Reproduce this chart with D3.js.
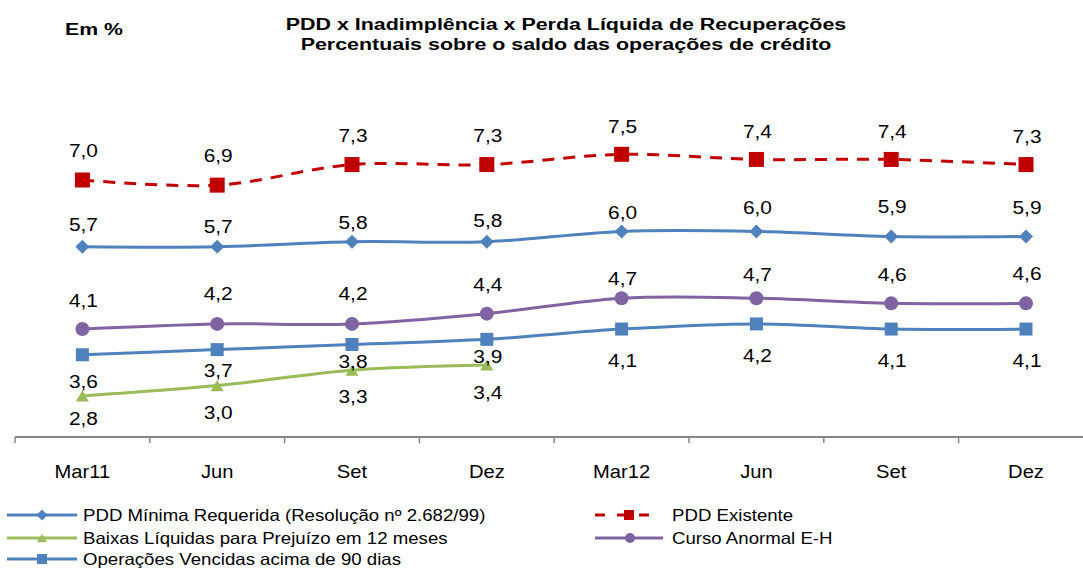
<!DOCTYPE html>
<html>
<head>
<meta charset="utf-8">
<script src="https://cdn.jsdelivr.net/npm/d3@7"></script>
<style>
  body { margin: 0; background: #fff; }
  text { font-family: "Liberation Sans", Arial, sans-serif; fill: #000; }
</style>
</head>
<body>
<div id="chart"></div>
<script>
// data
var categories = ["Mar11", "Jun", "Set", "Dez", "Mar12", "Jun", "Set", "Dez"];
var pddMinima = [5.7, 5.7, 5.8, 5.8, 6.0, 6.0, 5.9, 5.9];
var pddExistente = [7.0, 6.9, 7.3, 7.3, 7.5, 7.4, 7.4, 7.3];
var baixasLiquidas = [2.8, 3.0, 3.3, 3.4];
var cursoAnormal = [4.1, 4.2, 4.2, 4.4, 4.7, 4.7, 4.6, 4.6];
var vencidas90 = [3.6, 3.7, 3.8, 3.9, 4.1, 4.2, 4.1, 4.1];

var width = 1083, height = 569;
var fmt = function (v) { return d3.format(".1f")(v).replace(".", ","); };

// series look (label gap = distance of value label from its marker, negative = above)
var series = [
    { name: "PDD Mínima Requerida (Resolução nº 2.682/99)", values: pddMinima, color: "#4F81BD", marker: "diamond",
      labelGap: [-22, -20, -19, -21, -19, -24, -30, -29] },
    { name: "PDD Existente", values: pddExistente, color: "#C00000", marker: "square", dash: "12,9", big: true,
      labelGap: [-30, -30, -29, -29, -28, -28, -28, -28] },
    { name: "Baixas Líquidas para Prejuízo em 12 meses", values: baixasLiquidas, color: "#9BBB59", marker: "triangle",
      labelGap: [23, 27, 26, 27] },
    { name: "Curso Anormal E-H", values: cursoAnormal, color: "#8064A2", marker: "circle",
      labelGap: [-29, -30, -30, -29, -20, -24, -29, -30] },
    { name: "Operações Vencidas acima de 90 dias", values: vencidas90, color: "#4F81BD", marker: "square",
      labelGap: [27, 21, 17, 17, 31, 32, 31, 31] }
];

var svg = d3.select("#chart").append("svg")
    .attr("width", width)
    .attr("height", height);

var x = d3.scaleBand()
    .domain(d3.range(categories.length))
    .range([15, 15 + 8 * 134.8]);

var y = d3.scaleLinear()
    .domain([2, 8])
    .range([437, 128.6]);

// text that is a bit wider than plain Arial, like the original
function wideText(g, px, py, str, size, sx, weight, anchor) {
    return g.append("text")
        .attr("transform", "translate(" + px + "," + py + ") scale(" + sx + ",1)")
        .attr("text-anchor", anchor || "middle")
        .attr("font-size", size)
        .attr("font-weight", weight || "normal")
        .text(str);
}

function drawMarker(g, type, cx, cy, color, s) {
    if (type === "square") {
        g.append("rect").attr("x", cx - s / 2).attr("y", cy - s / 2)
            .attr("width", s).attr("height", s).attr("fill", color);
    } else if (type === "diamond") {
        var h = s / 2;
        g.append("path").attr("d", "M" + cx + "," + (cy - h) + "L" + (cx + h) + "," + cy + "L" + cx + "," + (cy + h) + "L" + (cx - h) + "," + cy + "Z")
            .attr("fill", color);
    } else if (type === "circle") {
        g.append("circle").attr("cx", cx).attr("cy", cy).attr("r", s / 2).attr("fill", color);
    } else if (type === "triangle") {
        var w = s / 2, th = s * 0.85;
        g.append("path").attr("d", "M" + cx + "," + (cy - th / 2) + "L" + (cx + w) + "," + (cy + th / 2) + "L" + (cx - w) + "," + (cy + th / 2) + "Z")
            .attr("fill", color);
    }
}

// titles
wideText(svg, 566, 30, "PDD x Inadimplência x Perda Líquida de Recuperações", 17, 1.26, "bold");
wideText(svg, 566, 50, "Percentuais sobre o saldo das operações de crédito", 17, 1.26, "bold");
wideText(svg, 65, 35, "Em %", 17, 1.25, "bold", "start");

// x axis with ticks between categories
var axis = svg.append("g");
axis.append("line")
    .attr("x1", x.range()[0]).attr("x2", width)
    .attr("y1", y(2)).attr("y2", y(2))
    .attr("stroke", "#868686").attr("stroke-width", 2);
axis.selectAll(".tick")
    .data(d3.range(categories.length))
    .enter().append("line")
    .attr("x1", function (d) { return x(d); })
    .attr("x2", function (d) { return x(d); })
    .attr("y1", y(2)).attr("y2", y(2) + 6)
    .attr("stroke", "#868686").attr("stroke-width", 1.5);
categories.forEach(function (c, i) {
    wideText(axis, x(i) + x.bandwidth() / 2, 478, c, 18, 1.12);
});

var line = d3.line()
    .x(function (d, i) { return x(i) + x.bandwidth() / 2; })
    .y(function (d) { return y(d); })
    .curve(d3.curveCatmullRom.alpha(0.5));

// draw order: back to front
var order = [4, 2, 3, 0, 1];
order.forEach(function (k) {
    var s = series[k];
    var g = svg.append("g");
    g.append("path")
        .attr("d", line(s.values))
        .attr("fill", "none")
        .attr("stroke", s.color)
        .attr("stroke-width", 3)
        .attr("stroke-dasharray", s.dash || null);
    s.values.forEach(function (v, i) {
        var cx = x(i) + x.bandwidth() / 2, cy = y(v);
        var size = s.marker === "diamond" ? 14 : (s.big ? 15 : 13);
        if (s.marker === "circle") size = 14;
        drawMarker(g, s.marker, cx, cy, s.color, size);
    });
});

// value labels on top
series.forEach(function (s) {
    var g = svg.append("g");
    s.values.forEach(function (v, i) {
        var cx = x(i) + x.bandwidth() / 2, cy = y(v);
        wideText(g, cx + 1, cy + s.labelGap[i] + 6.5, fmt(v), 18, 1.16);
    });
});

// legend
var legendPos = [
    { s: 0, lx: 7, tx: 83, cy: 515, len: 70 },
    { s: 2, lx: 7, tx: 83, cy: 538, len: 70 },
    { s: 4, lx: 7, tx: 83, cy: 559, len: 70 },
    { s: 1, lx: 595, tx: 672, cy: 515, len: 57 },
    { s: 3, lx: 595, tx: 672, cy: 538, len: 68 }
];
var legend = svg.append("g");
legendPos.forEach(function (p) {
    var s = series[p.s];
    legend.append("line")
        .attr("x1", p.lx).attr("x2", p.lx + p.len)
        .attr("y1", p.cy).attr("y2", p.cy)
        .attr("stroke", s.color).attr("stroke-width", 3)
        .attr("stroke-dasharray", s.dash ? "10,12" : null);
    drawMarker(legend, s.marker, p.lx + (s.dash ? 34 : 35), p.cy, s.color, s.marker === "diamond" ? 11 : 10);
    wideText(legend, p.tx, p.cy + 6, s.name, 16.5, 1.13, "normal", "start");
});
</script>
</body>
</html>
